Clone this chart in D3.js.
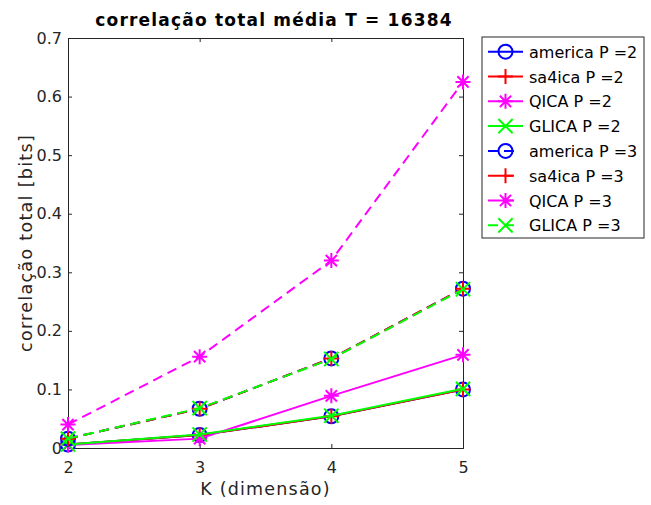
<!DOCTYPE html>
<html>
<head>
<meta charset="utf-8">
<script src="https://cdn.jsdelivr.net/npm/d3@7"></script>
<style>
  body { margin: 0; background: #fff; }
  text { font-family: "DejaVu Sans", sans-serif; fill: #262626; }
</style>
</head>
<body>
<script>
var width = 651, height = 505;

var kValues = [2, 3, 4, 5];
var yTicks = [0, 0.1, 0.2, 0.3, 0.4, 0.5, 0.6, 0.7];

// valores
var americaP2 = [0.006, 0.022, 0.054, 0.100];
var sa4icaP2  = [0.006, 0.022, 0.054, 0.100];
var qicaP2    = [0.005, 0.016, 0.089, 0.159];
var glicaP2   = [0.006, 0.023, 0.055, 0.101];
var americaP3 = [0.016, 0.067, 0.153, 0.272];
var sa4icaP3  = [0.016, 0.067, 0.153, 0.272];
var qicaP3    = [0.040, 0.156, 0.320, 0.625];
var glicaP3   = [0.016, 0.068, 0.152, 0.271];

var series = [
  { name: "america P =2", values: americaP2, color: "#0000ff", marker: "o", dash: false },
  { name: "sa4ica P =2",  values: sa4icaP2,  color: "#ff0000", marker: "+", dash: false },
  { name: "QICA P =2",    values: qicaP2,    color: "#ff00ff", marker: "*", dash: false },
  { name: "GLICA P =2",   values: glicaP2,   color: "#00ff00", marker: "x", dash: false },
  { name: "america P =3", values: americaP3, color: "#0000ff", marker: "o", dash: true },
  { name: "sa4ica P =3",  values: sa4icaP3,  color: "#ff0000", marker: "+", dash: true },
  { name: "QICA P =3",    values: qicaP3,    color: "#ff00ff", marker: "*", dash: true },
  { name: "GLICA P =3",   values: glicaP3,   color: "#00ff00", marker: "x", dash: true }
];

var margin = { left: 68, top: 38, right: 188, bottom: 57 };
var plotW = width - margin.left - margin.right;
var plotH = height - margin.top - margin.bottom;

var svg = d3.select("body").append("svg")
    .attr("width", width)
    .attr("height", height);

var g = svg.append("g")
    .attr("transform", "translate(" + margin.left + "," + margin.top + ")");

var x = d3.scaleLinear().domain([2, 5]).range([0, plotW]);
var y = d3.scaleLinear().domain([0, 0.7]).range([plotH, 0]);

var axisColor = "#262626";

// eixos estilo matlab (ticks para dentro, caixa)
var xAxis = g.append("g")
    .attr("transform", "translate(0," + plotH + ")")
    .call(d3.axisBottom(x).tickValues(kValues).tickSize(-4).tickPadding(14).tickFormat(d3.format("d")));
var xTop = g.append("g")
    .call(d3.axisTop(x).tickValues(kValues).tickSize(-4).tickFormat(""));
var yAxis = g.append("g")
    .call(d3.axisLeft(y).tickValues(yTicks).tickSize(-4).tickPadding(6)
      .tickFormat(function(d) { return d === 0 ? "0" : d3.format(".1f")(d); }));
var yRight = g.append("g")
    .attr("transform", "translate(" + plotW + ",0)")
    .call(d3.axisRight(y).tickValues(yTicks).tickSize(-4).tickFormat(""));

[xAxis, xTop, yAxis, yRight].forEach(function(a) {
  a.selectAll("path").attr("stroke", axisColor).attr("stroke-width", 1);
  a.selectAll("line").attr("stroke", axisColor);
  a.selectAll("text").style("font-size", "16px").style("font-family", "DejaVu Sans").attr("fill", axisColor);
});

function drawMarker(sel, type, color) {
  var s = 7.5;
  if (type === "o") {
    sel.append("circle").attr("r", 7).attr("fill", "none").attr("stroke", color).attr("stroke-width", 2);
  } else if (type === "+") {
    sel.append("path").attr("d", "M" + (-s) + ",0H" + s + "M0," + (-s) + "V" + s)
      .attr("stroke", color).attr("stroke-width", 2).attr("fill", "none");
  } else if (type === "x") {
    var t = s * 0.95;
    sel.append("path").attr("d", "M" + (-t) + "," + (-t) + "L" + t + "," + t + "M" + (-t) + "," + t + "L" + t + "," + (-t))
      .attr("stroke", color).attr("stroke-width", 2).attr("fill", "none");
  } else if (type === "*") {
    var a = s * 0.75;
    sel.append("path").attr("d", "M" + (-s) + ",0H" + s + "M0," + (-s) + "V" + s +
        "M" + (-a) + "," + (-a) + "L" + a + "," + a + "M" + (-a) + "," + a + "L" + a + "," + (-a))
      .attr("stroke", color).attr("stroke-width", 2).attr("fill", "none");
  }
}

var line = d3.line()
  .x(function(d, i) { return x(kValues[i]); })
  .y(function(d) { return y(d); });

series.forEach(function(s) {
  var sg = g.append("g");
  sg.append("path")
    .datum(s.values)
    .attr("d", line)
    .attr("fill", "none")
    .attr("stroke", s.color)
    .attr("stroke-width", 2)
    .attr("stroke-dasharray", s.dash ? "10,6" : null);
  sg.selectAll("g.mk")
    .data(s.values)
    .enter()
    .append("g")
    .attr("class", "mk")
    .attr("transform", function(d, i) { return "translate(" + x(kValues[i]) + "," + y(d) + ")"; })
    .each(function() { drawMarker(d3.select(this), s.marker, s.color); });
});

// título e rótulos
svg.append("text")
  .attr("x", 274)
  .attr("y", 26)
  .attr("text-anchor", "middle")
  .style("font-size", "17px")
  .style("font-weight", "bold")
  .style("letter-spacing", "1.2px")
  .style("fill", "#000")
  .text("correlação total média T = 16384");

svg.append("text")
  .attr("x", margin.left + plotW / 2)
  .attr("y", 495)
  .attr("text-anchor", "middle")
  .style("font-size", "17.5px")
  .style("letter-spacing", "1.2px")
  .text("K (dimensão)");

svg.append("text")
  .attr("transform", "translate(32," + (margin.top + plotH / 2) + ") rotate(-90)")
  .attr("text-anchor", "middle")
  .style("font-size", "17.5px")
  .style("letter-spacing", "1.3px")
  .text("correlação total [bits]");

// legenda
var leg = svg.append("g").attr("transform", "translate(482,37)");
leg.append("rect")
  .attr("width", 162).attr("height", 201)
  .attr("fill", "#fff").attr("stroke", axisColor).attr("stroke-width", 1);

var items = leg.selectAll("g.item")
  .data(series)
  .enter()
  .append("g")
  .attr("class", "item")
  .attr("transform", function(d, i) { return "translate(0," + (14.7 + i * 24.8) + ")"; });

items.append("line")
  .attr("x1", 6).attr("x2", function(d) { return d.dash ? 33 : 41; }).attr("y1", 0).attr("y2", 0)
  .attr("stroke", function(d) { return d.color; })
  .attr("stroke-width", 2)
  .attr("stroke-dasharray", function(d) { return d.dash ? "10,6" : null; });
items.append("g")
  .attr("transform", "translate(23.5,0)")
  .each(function(d) { drawMarker(d3.select(this), d.marker, d.color); });
items.append("text")
  .attr("x", 47)
  .attr("y", 6)
  .style("font-size", "16px")
  .style("fill", "#000")
  .text(function(d) { return d.name; });
</script>
</body>
</html>
